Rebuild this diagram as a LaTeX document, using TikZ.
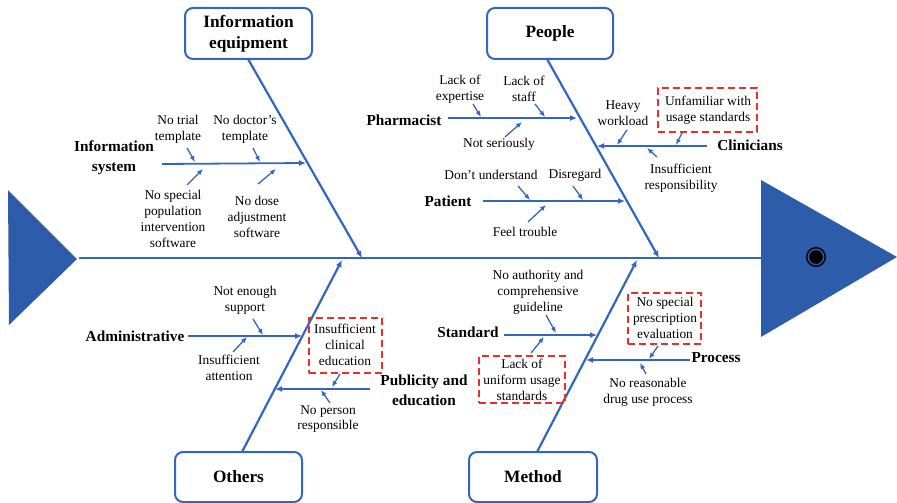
\documentclass[tikz,border=0pt]{standalone}
\usepackage{fontspec}
\setmainfont{Liberation Serif}
\usetikzlibrary{arrows.meta}
\definecolor{fishblue}{RGB}{44,92,170}
\definecolor{lineblue}{RGB}{52,102,192}
\definecolor{dashred}{RGB}{232,48,42}
\tikzset{
  catbox/.style={draw=lineblue,line width=2pt,rounded corners=8pt,fill=white,font=\fontsize{17.3}{21}\selectfont\bfseries,align=center,inner sep=0pt},
  sublabel/.style={font=\fontsize{15.3}{20}\selectfont\bfseries,align=center,inner sep=0pt},
  cause/.style={font=\fontsize{13.4}{15.8}\selectfont,align=center,inner sep=0pt},
  redbox/.style={draw=dashred,line width=2.4pt,dash pattern=on 7pt off 4pt},
  bone/.style={draw=lineblue,line width=2.2pt,-{Latex[length=7pt,width=6pt]}},
  subbone/.style={draw=lineblue,line width=1.8pt,-{Latex[length=7pt,width=6pt]}},
  twig/.style={draw=lineblue,line width=1.3pt,-{Latex[length=6pt,width=5pt]}},
}
\begin{document}
\begin{tikzpicture}[x=1pt,y=-1pt]
\useasboundingbox (0,0) rectangle (897,503);
% tail and head
\fill[fishblue] (8,190) -- (77,259) -- (9,325) -- cycle;
\fill[fishblue] (761,180) -- (897,257) -- (761,337) -- cycle;
\draw[lineblue,line width=2.8pt] (79,258) -- (762,258);
\draw[black,line width=1.5pt] (816,257) circle (9.3);
\fill[black] (816,257) circle (6.8);
% spine coordinates
\coordinate (sIE) at (362,258);
\coordinate (sP) at (659,258);
\coordinate (sO) at (342,260);
\coordinate (sM) at (637,260);
% category boxes
\node[catbox,minimum width=127pt,minimum height=51pt] (ie) at (248.5,33.5) {Information\\equipment};
\node[catbox,minimum width=126pt,minimum height=51pt] (pe) at (550,33.5) {People};
\node[catbox,minimum width=127pt,minimum height=50pt] (ot) at (238.5,477) {Others};
\node[catbox,minimum width=128pt,minimum height=50pt] (me) at (533,477) {Method};
\draw[bone] (248,59) -- (sIE);
\draw[bone] (547,59) -- (sP);
\draw[bone] (242,452) -- (sO);
\draw[bone] (537,452) -- (sM);
% ---------- Information system
\node[sublabel] (is) at (114,158) {Information\\system};
\coordinate (isA) at (162,164);
\coordinate (isB) at (306,163);
\draw[subbone] (isA) -- (isB);
\node[cause] (is1) at (178,129) {No trial\\template};
\node[cause] (is2) at (245,129) {No doctor's\\template};
\node[cause] (is3) at (173,219) {No special\\population\\intervention\\software};
\node[cause] (is4) at (257,217) {No dose\\adjustment\\software};
\draw[twig] (187,148) -- (195,162);
\draw[twig] (253,148) -- (260,162);
\draw[twig] (187,185) -- (203,169);
\draw[twig] (258,184) -- (276,169);
% ---------- Pharmacist
\node[sublabel] (ph) at (404,120) {Pharmacist};
\draw[subbone] (448,118) -- (577,118);
\node[cause] (ph1) at (460,89) {Lack of\\expertise};
\node[cause] (ph2) at (524,89) {Lack of\\staff};
\node[cause] (ph3) at (499,144) {Not seriously};
\draw[twig] (473,104) -- (481,117);
\draw[twig] (535,104) -- (545,117);
\draw[twig] (505,137) -- (522,122);
% ---------- Patient
\node[sublabel] (pa) at (448,201) {Patient};
\draw[subbone] (483,201) -- (625,201);
\node[cause] (pa1) at (491,175) {Don't understand};
\node[cause] (pa2) at (575,175) {Disregard};
\node[cause] (pa3) at (525,232) {Feel trouble};
\draw[twig] (518,186) -- (530,200);
\draw[twig] (573,186) -- (583,200);
\draw[twig] (528,222) -- (546,205);
% ---------- Clinicians
\node[sublabel] (cl) at (750,145) {Clinicians};
\draw[subbone] (707,146) -- (597,146);
\node[cause] (cl1) at (623,113) {Heavy\\workload};
\node[redbox,minimum width=99pt,minimum height=44pt] (clb) at (707.5,110) {};
\node[cause] (cl2) at (708,110) {Unfamiliar with\\usage standards};
\node[cause] (cl3) at (681,178) {Insufficient\\responsibility};
\draw[twig] (627,130) -- (617,145);
\draw[twig] (682,133) -- (676,145);
\draw[twig] (657,157) -- (647,148);
% ---------- Administrative
\node[sublabel] (ad) at (135,336) {Administrative};
\draw[subbone] (188,336) -- (302,336);
\node[cause] (ad1) at (245,300) {Not enough\\support};
\node[cause] (ad2) at (229,368) {Insufficient\\attention};
\draw[twig] (253,319) -- (263,335);
\draw[twig] (233,352) -- (247,337);
% ---------- Publicity and education
\node[sublabel] (pu) at (424,390) {Publicity and\\education};
\draw[subbone] (370,389) -- (275,389);
\node[redbox,minimum width=73pt,minimum height=55pt] (pub) at (345.5,345.5) {};
\node[cause] (pu1) at (345,345) {Insufficient\\clinical\\education};
\node[cause] (pu2) at (328,419) {No person\\responsible};
\draw[twig] (340,374) -- (332,387);
\draw[twig] (330,403) -- (321,390);
% ---------- Standard
\node[sublabel] (st) at (468,332) {Standard};
\draw[subbone] (504,335) -- (597,335);
\node[cause] (st1) at (538,292) {No authority and\\comprehensive\\guideline};
\node[redbox,minimum width=86pt,minimum height=47pt] (stb) at (522,379.5) {};
\node[cause] (st2) at (522,380) {Lack of\\uniform usage\\standards};
\draw[twig] (546,315) -- (556,333);
\draw[twig] (531,353) -- (544,337);
% ---------- Process
\node[sublabel] (pr) at (716,358) {Process};
\draw[subbone] (690,360) -- (586,360);
\node[redbox,minimum width=73pt,minimum height=51pt] (prb) at (664.5,318.5) {};
\node[cause] (pr1) at (665,318) {No special\\prescription\\evaluation};
\node[cause] (pr2) at (648,392) {No reasonable\\drug use process};
\draw[twig] (658,346) -- (649,359);
\draw[twig] (646,374) -- (640,363);
\end{tikzpicture}
\end{document}
